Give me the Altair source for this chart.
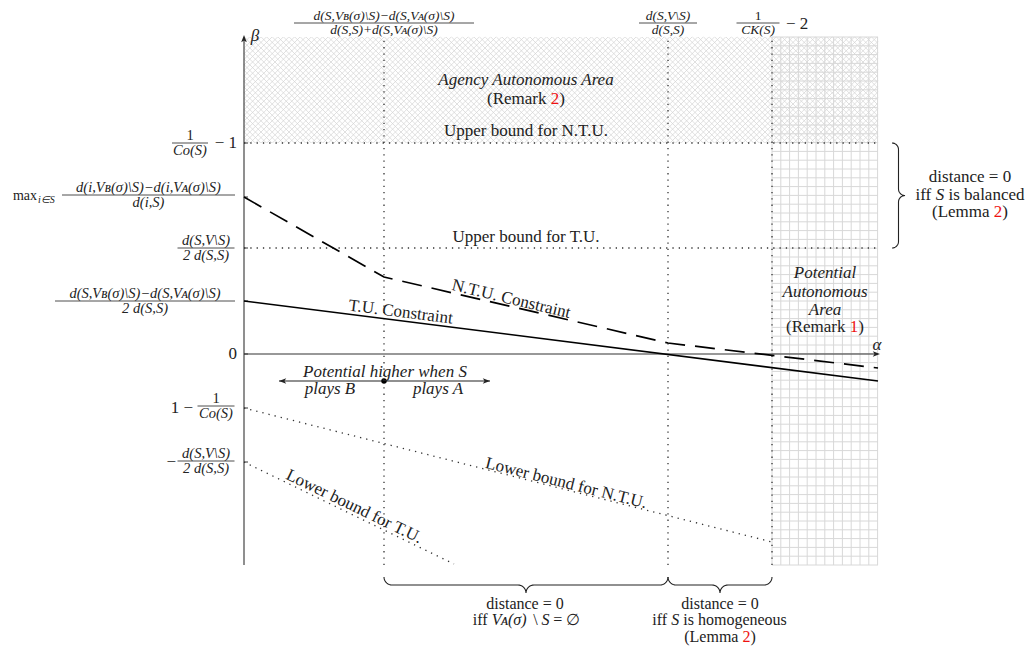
import altair as alt
import numpy as np
import pandas as pd

FONT = "Liberation Serif"
INK = "#222222"
RED = "#ee1111"

# ---------------- data (alpha / beta units) ----------------
alpha_guides = [1.40, 4.24, 5.28]          # vertical dotted guides
alpha_end = 6.34
beta_top, beta_bottom = 3.17, -2.11
beta_ticks = [2.11, 1.57, 1.06, 0.53, 0.0, -0.54, -1.08]
upper_ntu, upper_tu = 2.11, 1.06

tu_alpha = [0.0, 6.34]
tu_beta = [0.53, -0.27]
ntu_alpha = [0.0, 1.40, 4.24, 6.34]
ntu_beta = [1.57, 0.77, 0.11, -0.14]
low_ntu_alpha = [0.0, 5.28]
low_ntu_beta = [-0.54, -1.88]
low_tu_alpha = [0.0, 2.10]
low_tu_beta = [-1.08, -2.10]

# ---------------- scales ----------------
XS = alt.Scale(domain=[-2.36, 7.82], nice=False, zero=False)
YS = alt.Scale(domain=[-2.92, 3.46], nice=False, zero=False)


def X(f="x"):
    return alt.X(f"{f}:Q", scale=XS, axis=None)


def Y(f="y"):
    return alt.Y(f"{f}:Q", scale=YS, axis=None)


def rules(segs, **kw):
    df = pd.DataFrame(segs, columns=["x", "y", "x2", "y2"])
    return alt.Chart(df).mark_rule(**kw).encode(
        x=X(), y=Y(), x2=alt.X2("x2:Q"), y2=alt.Y2("y2:Q"))


def polyline(xs, ys, **kw):
    df = pd.DataFrame({"x": xs, "y": ys, "o": list(range(len(xs)))})
    return alt.Chart(df).mark_line(**kw).encode(x=X(), y=Y(), order=alt.Order("o:Q"))


# ---------------- area textures ----------------
def hatch_segments(x0, x1, y0, y1, s):
    segs = []
    for c in np.arange(x0 - y1, x1 - y0 + 1e-9, s):
        lo, hi = max(y0, x0 - c), min(y1, x1 - c)
        if hi > lo:
            segs.append((lo + c, lo, hi + c, hi))
    for c in np.arange(x0 + y0, x1 + y1 + 1e-9, s):
        lo, hi = max(y0, c - x1), min(y1, c - x0)
        if hi > lo:
            segs.append((c - lo, lo, c - hi, hi))
    return segs


hatch = rules(hatch_segments(0.0, alpha_end, upper_ntu, beta_top, 0.056),
              color="#d2d2d2", strokeWidth=0.7)

g_step = 0.088
grid_segs = []
for gx in np.arange(alpha_guides[2], alpha_end + 1e-6, g_step):
    grid_segs.append((gx, beta_bottom, gx, beta_top))
for gy in np.arange(beta_bottom, beta_top + 1e-6, g_step):
    grid_segs.append((alpha_guides[2], gy, alpha_end, gy))
grid = rules(grid_segs, color="#d8d8d8", strokeWidth=1.0)

# ---------------- dotted guides ----------------
DOT = dict(color="#333333", strokeWidth=1.3, strokeDash=[1.3, 5.0])
guides = rules(
    [(a, beta_bottom, a, beta_top) for a in alpha_guides]
    + [(0.0, upper_ntu, alpha_end, upper_ntu), (0.0, upper_tu, alpha_end, upper_tu)],
    **DOT)
low_ntu = polyline(low_ntu_alpha, low_ntu_beta, **DOT)
low_tu = polyline(low_tu_alpha, low_tu_beta, **DOT)

# ---------------- axes ----------------
axes = rules([(0.0, beta_bottom, 0.0, 3.15), (0.0, 0.0, 6.32, 0.0)],
             color="#333333", strokeWidth=1.1)
ticks = rules([(0.0, b, 0.04, b) for b in beta_ticks], color="#333333", strokeWidth=1.0)

UP = "M0,-1 L-0.7,0.8 L0,0.35 L0.7,0.8 Z"
RIGHT = "M1,0 L-0.8,-0.7 L-0.35,0 L-0.8,0.7 Z"
LEFT = "M-1,0 L0.8,-0.7 L0.35,0 L0.8,0.7 Z"
heads_df = pd.DataFrame({
    "x": [0.0, 6.32, 0.39, 2.42],
    "y": [3.15, 0.0, -0.27, -0.27],
    "shape": [UP, RIGHT, LEFT, RIGHT],
})
heads = alt.Chart(heads_df).mark_point(filled=True, size=64, opacity=1, color=INK,
                                       strokeWidth=0).encode(
    x=X(), y=Y(), shape=alt.Shape("shape:N", scale=None))

# ---------------- constraint lines ----------------
tu_line = polyline(tu_alpha, tu_beta, color="black", strokeWidth=1.6)
ntu_line = polyline(ntu_alpha, ntu_beta, color="black", strokeWidth=1.7, strokeDash=[20, 10])

# potential arrow
pot_arrow = rules([(0.35, -0.27, 2.46, -0.27)], color=INK, strokeWidth=1.2)
pot_dot = alt.Chart(pd.DataFrame({"x": [1.40], "y": [-0.27]})).mark_circle(
    size=30, color="black", opacity=1).encode(x=X(), y=Y())


# ---------------- braces ----------------
def brace_uv(a, b, r, n=10):
    m = (a + b) / 2
    pts = []
    for s in np.linspace(0, np.pi / 2, n):
        pts.append((a + r - r * np.cos(s), r * np.sin(s)))
    for s in np.linspace(0, np.pi / 2, n):
        pts.append((m - r + r * np.sin(s), 2 * r - r * np.cos(s)))
    right = [(a + b - u, v) for (u, v) in reversed(pts)]
    return pts + right[1:]


brace_rows = []
for bid, (a, b) in enumerate([(alpha_guides[0], alpha_guides[1]), (alpha_guides[1], alpha_guides[2])]):
    for i, (u, v) in enumerate(brace_uv(a, b, 0.08)):
        brace_rows.append({"id": bid, "o": i, "x": u, "y": -2.23 - v})
for i, (u, v) in enumerate(brace_uv(upper_tu, upper_ntu, 0.065)):
    brace_rows.append({"id": 9, "o": i, "x": 6.48 + v, "y": u})
braces = alt.Chart(pd.DataFrame(brace_rows)).mark_line(color=INK, strokeWidth=1.1).encode(
    x=X(), y=Y(), detail="id:N", order=alt.Order("o:Q"))

# ---------------- texts ----------------
texts = []
bars = []

# Times-compatible advance widths (per 1000 em) for the reference labels
ADV = {"(": 333, ")": 333, " ": 250, "R": 667, "e": 444, "m": 778, "a": 444,
       "r": 333, "k": 500, "L": 611, "1": 500, "2": 500}


def adv(s, size):
    return sum(ADV[c] for c in s) * size / 1000.0 / 100.0   # in alpha units


def T(x, y, s, size=17, style="normal", align="center", baseline="middle", angle=0.0, color=INK):
    texts.append(dict(x=x, y=y, t=s, size=size, style=style, align=align,
                      baseline=baseline, angle=angle, color=color))


def ref_label(cx, y, word, digit, size=17, baseline="middle"):
    w_word, w_sp, w_dig, w_par = adv(word, size), adv(" ", size), adv(digit, size), adv(")", size)
    x0 = cx - (w_word + w_sp + w_dig + w_par) / 2
    T(x0, y, word, size=size, align="left", baseline=baseline)
    T(x0 + w_word + w_sp, y, digit, size=size, align="left", baseline=baseline, color=RED)
    T(x0 + w_word + w_sp + w_dig, y, ")", size=size, align="left", baseline=baseline)


def frac(cx, bar_y, w, num, den, size=14.5, up=0.035, down=0.115):
    ns = "normal" if num.isdigit() else "italic"
    T(cx, bar_y + up, num, size=size, style=ns, baseline="alphabetic")
    T(cx, bar_y - down, den, size=size, style="italic", baseline="alphabetic")
    bars.append((cx - w / 2, bar_y, cx + w / 2, bar_y))


NUM_B = "d(S,Vʙ(σ)\\S)−d(S,Vᴀ(σ)\\S)"

# y-axis labels
frac(-0.54, 2.11, 0.36, "1", "Co(S)")
T(-0.07, 2.11, "− 1", align="right")
T(-2.07, 1.58, "max", size=14, align="right")
T(-2.06, 1.54, "i∈S", size=10, style="italic", align="left")
frac(-0.955, 1.59, 1.73, "d(i,Vʙ(σ)\\S)−d(i,Vᴀ(σ)\\S)", "d(i,S)")
frac(-0.38, 1.06, 0.57, "d(S,V\\S)", "2 d(S,S)")
frac(-0.99, 0.53, 1.80, NUM_B, "2 d(S,S)")
T(-0.07, 0.0, "0", align="right")
T(-0.51, -0.54, "1 −", align="right")
frac(-0.28, -0.52, 0.37, "1", "Co(S)")
T(-0.68, -1.08, "−", align="right")
frac(-0.38, -1.07, 0.57, "d(S,V\\S)", "2 d(S,S)")

# top labels
TOP = 3.31
frac(1.40, TOP, 1.80, NUM_B, "d(S,S)+d(S,Vᴀ(σ)\\S)", size=13.5, up=0.03, down=0.105)
frac(4.24, TOP, 0.58, "d(S,V\\S)", "d(S,S)", size=13.5, up=0.03, down=0.105)
frac(5.14, TOP, 0.43, "1", "CK(S)", size=13.5, up=0.03, down=0.105)
T(5.42, TOP - 0.01, "− 2", align="left")

# axis names
T(6.33, 0.09, "α", style="italic")
T(0.11, 3.18, "β", style="italic")

# areas and bounds
T(2.82, 2.74, "Agency Autonomous Area", style="italic")
ref_label(2.82, 2.55, "(Remark", "2")
T(2.82, 2.23, "Upper bound for N.T.U.")
T(2.82, 1.17, "Upper bound for T.U.")
T(2.66, 0.50, "N.T.U. Constraint", baseline="alphabetic", angle=13.5)
T(1.56, 0.37, "T.U. Constraint", baseline="alphabetic", angle=7.2)
T(3.21, -1.34, "Lower bound for N.T.U.", baseline="alphabetic", angle=14.2)
T(1.08, -1.57, "Lower bound for T.U.", baseline="alphabetic", angle=25.9)

T(1.41, -0.225, "Potential higher when S", style="italic", baseline="alphabetic")
T(0.86, -0.40, "plays B", style="italic", baseline="alphabetic")
T(1.94, -0.40, "plays A", style="italic", baseline="alphabetic")

T(5.81, 0.81, "Potential", style="italic")
T(5.81, 0.62, "Autonomous", style="italic")
T(5.81, 0.44, "Area", style="italic")
ref_label(5.81, 0.27, "(Remark", "1")

# brace notes (right)
T(7.26, 1.77, "distance = 0")
T(6.715, 1.59, "iff", align="left")
T(6.9175, 1.59, "S", style="italic", align="left")
T(7.045, 1.59, "is balanced", align="left")
ref_label(7.26, 1.42, "(Lemma", "2")

# brace notes (bottom)
BS = 16
T(2.81, -2.495, "distance = 0", size=BS)
T(2.2875, -2.66, "iff", size=BS, align="left")
T(2.478, -2.66, "Vᴀ(σ)", size=BS, style="italic", align="left")
T(2.892, -2.66, "\\", size=BS, align="left")
T(2.974, -2.66, "S", size=BS, style="italic", align="left")
T(3.092, -2.66, "= ∅", size=BS, align="left")

T(4.76, -2.495, "distance = 0", size=BS)
T(4.082, -2.66, "iff", size=BS, align="left")
T(4.273, -2.66, "S", size=BS, style="italic", align="left")
T(4.393, -2.66, "is homogeneous", size=BS, align="left")
ref_label(4.76, -2.825, "(Lemma", "2", size=BS)

frac_bars = rules(bars, color=INK, strokeWidth=0.8)

tdf = pd.DataFrame(texts)
text_layers = []
for (st, al, bl), g in tdf.groupby(["style", "align", "baseline"], sort=False):
    text_layers.append(
        alt.Chart(g[["x", "y", "t", "size", "angle", "color"]].reset_index(drop=True))
        .mark_text(font=FONT, fontStyle=st, align=al, baseline=bl)
        .encode(x=X(), y=Y(), text="t:N",
                size=alt.Size("size:Q", scale=None),
                angle=alt.Angle("angle:Q", scale=None),
                color=alt.Color("color:N", scale=None))
    )

chart = alt.layer(
    hatch, grid, guides, low_ntu, low_tu, axes, ticks,
    tu_line, ntu_line, pot_arrow, braces, frac_bars, heads, pot_dot,
    *text_layers,
).properties(
    width=1018, height=638, padding=0,
    autosize=alt.AutoSizeParams(type="none"),
    background="white",
).configure_view(stroke=None)

chart.save("out.html", embed_options={"renderer": "svg", "actions": False})
